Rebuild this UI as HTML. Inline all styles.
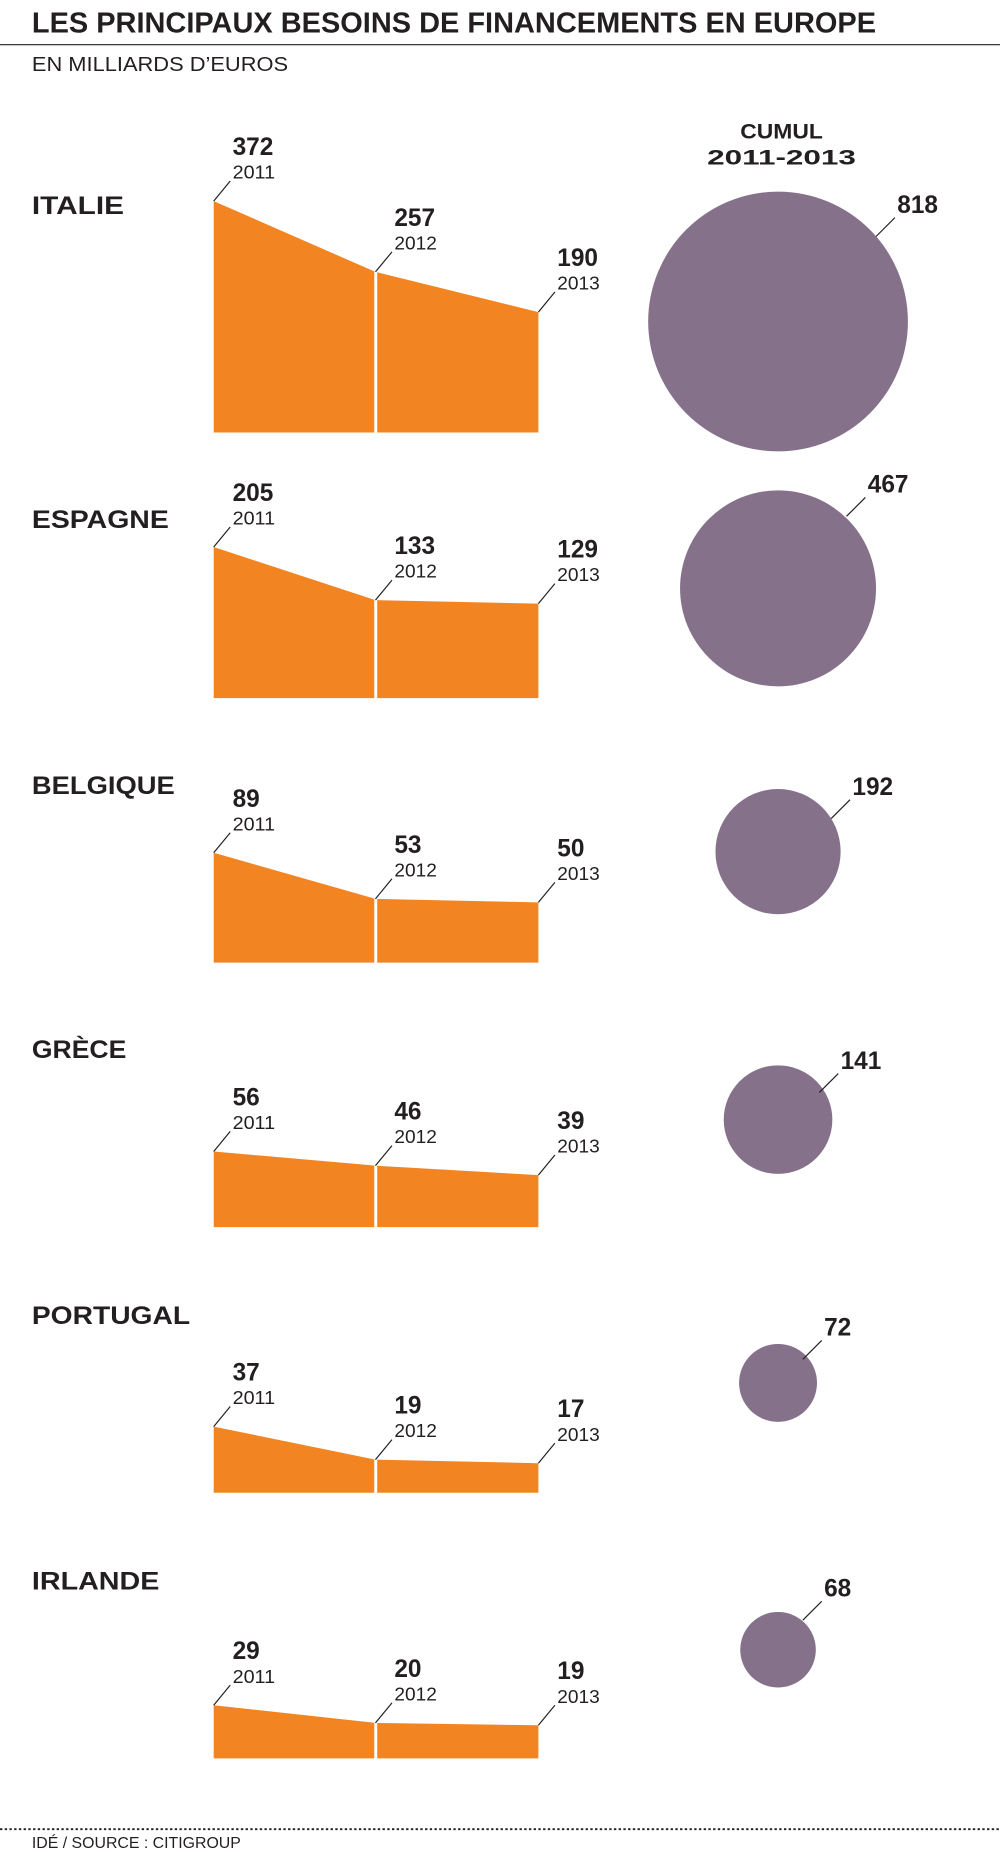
<!DOCTYPE html>
<html><head><meta charset="utf-8"><style>
html,body{margin:0;padding:0;background:#fff}
svg{display:block}
text{font-family:"Liberation Sans","DejaVu Sans",sans-serif;fill:#231f20}
.v{font-size:21px;font-weight:bold}
.y{font-size:16px}
.c{font-size:21px;font-weight:bold}
</style></head><body>
<svg width="1000" height="1852" viewBox="0 0 847 1568" xmlns="http://www.w3.org/2000/svg">
<text x="27" y="27" font-size="24" font-weight="bold" textLength="715" lengthAdjust="spacingAndGlyphs">LES PRINCIPAUX BESOINS DE FINANCEMENTS EN EUROPE</text>
<line x1="0" y1="37.5" x2="847" y2="37.5" stroke="#231f20" stroke-width="1"/>
<text x="27" y="60" font-size="17" textLength="217" lengthAdjust="spacingAndGlyphs">EN MILLIARDS D’EUROS</text>
<text x="662" y="117" font-size="18" font-weight="bold" text-anchor="middle" textLength="70" lengthAdjust="spacingAndGlyphs">CUMUL</text>
<text x="662" y="139" font-size="18" font-weight="bold" text-anchor="middle" textLength="126" lengthAdjust="spacingAndGlyphs">2011-2013</text>

<g id="rows"></g>
<line x1="0" y1="1549" x2="847" y2="1549" stroke="#231f20" stroke-width="1.5" stroke-dasharray="2,2"/>
<text x="27" y="1565" font-size="13" textLength="177" lengthAdjust="spacingAndGlyphs">IDÉ / SOURCE : CITIGROUP</text>
</svg>
<script>
var rows=[
["ITALIE",181,366,[170,230,264],["372","257","190"],[659,272,110],"818",[760,180],78],
["ESPAGNE",447,591,[463,508,511],["205","133","129"],[659,498,83],"467",[735,417],116],
["BELGIQUE",672,815,[722,761,764],["89","53","50"],[659,721,53],"192",[722,673],121],
["GRÈCE",896,1039,[975,987,995],["56","46","39"],[659,948,46],"141",[712,905],80],
["PORTUGAL",1121,1264,[1208,1236,1239],["37","19","17"],[659,1171,33],"72",[698,1131],134],
["IRLANDE",1346,1489,[1444,1459,1461],["29","20","19"],[659,1397,32],"68",[698,1352],108]];
var ns="http://www.w3.org/2000/svg",g=document.getElementById("rows");
function el(t,a,txt){var e=document.createElementNS(ns,t);for(var k in a)e.setAttribute(k,a[k]);if(txt)e.textContent=txt;g.appendChild(e);return e;}
var xs=[181,318,456],yrs=["2011","2012","2013"];
rows.forEach(function(r){
 el("text",{x:27,y:r[1],"class":"c",textLength:r[8],lengthAdjust:"spacingAndGlyphs"},r[0]);
 var t=r[3],b=r[2];
 el("polygon",{points:"181,"+b+" 181,"+t[0]+" 318,"+t[1]+" 456,"+t[2]+" 456,"+b,fill:"#f28522"});
 el("rect",{x:317,y:t[1]-1,width:2.5,height:b-t[1]+2,fill:"#fff"});
 for(var i=0;i<3;i++){
  var x=xs[i],y=t[i];
  el("line",{x1:x,y1:y,x2:x+14,y2:y-17,stroke:"#231f20","stroke-width":1});
  el("text",{x:x+16,y:y-39,"class":"v",textLength:r[4][i].length*11.5,lengthAdjust:"spacingAndGlyphs"},r[4][i]);
  el("text",{x:x+16,y:y-19,"class":"y",textLength:36,lengthAdjust:"spacingAndGlyphs"},yrs[i]);
 }
 var c=r[5];
 el("circle",{cx:c[0],cy:c[1],r:c[2],fill:"#86718b"});
 var lx=r[7][0],ly=r[7][1];
 el("line",{x1:lx-18,y1:ly+20,x2:lx-2,y2:ly+4,stroke:"#231f20","stroke-width":1});
 el("text",{x:lx,y:ly,"class":"v",textLength:r[6].length*11.5,lengthAdjust:"spacingAndGlyphs"},r[6]);
});
</script>
</body></html>
